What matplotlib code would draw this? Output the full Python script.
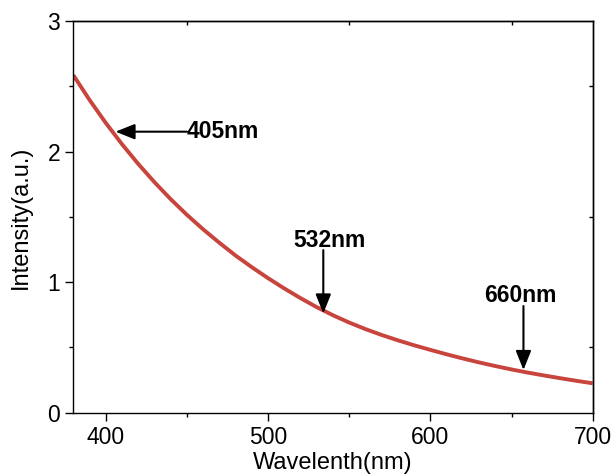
import numpy as np
import matplotlib.pyplot as plt

plt.rcParams['font.family'] = ['Liberation Sans', 'DejaVu Sans']
plt.rcParams['font.size'] = 16.5
plt.rcParams['axes.linewidth'] = 1

# curve (every 10 nm)
wavelength = [380, 390, 400, 410, 420, 430, 440, 450, 460, 470, 480, 490, 500,
              510, 520, 530, 540, 550, 560, 570, 580, 590, 600, 610, 620, 630,
              640, 650, 660, 670, 680, 690, 700]
intensity = [2.585, 2.395, 2.219, 2.056, 1.905, 1.765, 1.635, 1.515, 1.404, 1.301,
             1.203, 1.114, 1.030, 0.951, 0.877, 0.808, 0.746, 0.690, 0.640, 0.595,
             0.554, 0.516, 0.481, 0.447, 0.415, 0.385, 0.357, 0.331, 0.307, 0.285,
             0.264, 0.244, 0.225]

# marked wavelengths: label, arrow tip, arrow tail, text position
marks = ["405nm", "532nm", "660nm"]
tips = [(406, 2.152), (534, 0.76), (657.3, 0.327)]
tails = [(450, 2.152), (534, 1.245), (657.3, 0.817)]
text_pos = [(449.8, 2.152), (537.7, 1.322), (655.3, 0.90)]
text_ha = ["left", "center", "center"]

fig = plt.figure(figsize=(6.13, 4.76), dpi=100)
ax = fig.add_axes([0.1196, 0.133, 0.8474, 0.823])

ax.plot(wavelength, intensity, color="#c8453d", lw=2.8, solid_capstyle="butt",
        solid_joinstyle="round")

for lab, tip, tail, pos, ha in zip(marks, tips, tails, text_pos, text_ha):
    ax.annotate("", xy=tip, xytext=tail,
                arrowprops=dict(arrowstyle="-|>,head_length=0.65,head_width=0.26",
                                color="k", lw=1.5, mutation_scale=18,
                                shrinkA=0, shrinkB=0))
    ax.text(pos[0], pos[1], lab, ha=ha, va="center", fontsize=16.5, fontweight="bold")

ax.set_xlim(380, 700)
ax.set_ylim(0, 3)
ax.set_xticks([400, 500, 600, 700])
ax.set_yticks([0, 1, 2, 3])
ax.set_xticks([450, 550, 650], minor=True)
ax.set_yticks([0.5, 1.5, 2.5], minor=True)
ax.tick_params(which='major', direction='out', length=6, width=1, labelsize=16.5)
ax.tick_params(which='minor', direction='out', length=3, width=1)

top = ax.secondary_xaxis('top')
top.set_xticks([450, 550, 650])
top.tick_params(direction='in', length=3, width=1, labeltop=False)
right = ax.secondary_yaxis('right')
right.set_yticks([0.5, 1.5, 2.5])
right.tick_params(direction='in', length=3, width=1, labelright=False)

ax.set_xlabel("Wavelenth(nm)", fontsize=17, labelpad=2)
ax.set_ylabel("Intensity(a.u.)", fontsize=17, labelpad=11)

fig.savefig("out.png", dpi=100)
